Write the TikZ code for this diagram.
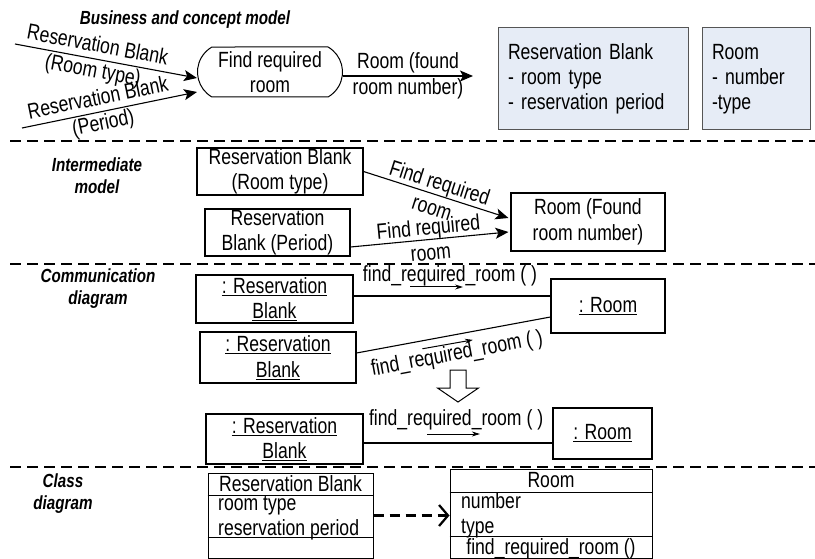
\documentclass[tikz,border=0pt]{standalone}
\usepackage{fontspec}
\setmainfont{Liberation Sans}[FakeStretch=0.8]
\usetikzlibrary{arrows.meta,shapes.misc}
\definecolor{notefill}{RGB}{230,236,246}
\definecolor{notedraw}{RGB}{85,85,85}
\begin{document}
\begin{tikzpicture}[x=1pt,y=-1pt,
  txt/.style={font=\fontsize{22}{25.5}\selectfont, align=center, inner sep=0pt},
  sec/.style={font=\fontsize{19}{22}\selectfont\bfseries\itshape, align=center, inner sep=0pt},
  box/.style={draw, line width=1.1pt, txt},
  conn/.style={line width=1.1pt, -{Stealth[length=13pt,width=11pt,inset=3pt]}},
  plainline/.style={line width=1.1pt},
  msg/.style={line width=1pt, -{Stealth[length=8pt,width=5pt]}},
  sepline/.style={line width=1.1pt, dash pattern=on 11pt off 6pt},
  note/.style={draw=notedraw, fill=notefill, line width=1pt, font=\fontsize{22}{25}\selectfont, align=left, inner ysep=0pt, inner xsep=10pt},
  cls/.style={draw, line width=1pt, inner sep=0pt},
  dep/.style={line width=2.5pt, dash pattern=on 10pt off 6pt, -{Straight Barb[length=9pt,width=21pt,line width=2.2pt]}}
]
\useasboundingbox (0,0) rectangle (815,559);

% separators
\coordinate (s1a) at (10,141); \coordinate (s1b) at (815,141);
\coordinate (s2a) at (10,264); \coordinate (s2b) at (815,264);
\coordinate (s3a) at (10,467); \coordinate (s3b) at (815,467);
\draw[sepline] (s1a) -- (s1b);
\draw[sepline] (s2a) -- (s2b);
\draw[sepline] (s3a) -- (s3b);

% ---------- Business and concept model
\node[sec] (t1) at (185,20) {Business and concept model};
\node[draw, rounded rectangle, rounded rectangle arc length=120, minimum width=145pt, minimum height=50pt, line width=1pt, txt] (S) at (270,72) {Find required\\room};
\coordinate (i1) at (15,44);
\coordinate (i2) at (22,128);
\coordinate (o1) at (473,76);
\draw[conn] (i1) -- node[txt, sloped, pos=0.44] (l1) {Reservation Blank\\(Room type)} ([shift={(0,6)}]S.west);
\draw[conn] (i2) -- node[txt, sloped, pos=0.45] (l2) {Reservation Blank\\(Period)} ([shift={(0,20)}]S.west);
\draw[conn] ([shift={(0,4)}]S.east) -- node[txt, pos=0.5] (l3) {Room (found\\room number)} (o1);

\node[note, minimum width=190pt, minimum height=102pt, text width=170pt] (rb) at (593,79) {Reservation Blank\\- room type\\- reservation period};
\node[note, minimum width=108pt, minimum height=102pt, text width=88pt] (rm) at (756,79) {Room\\- number\\-type};

% ---------- Intermediate model
\node[sec] (t2) at (97,176) {Intermediate\\model};
\node[box, minimum width=166pt, minimum height=47pt] (A) at (280,171.5) {Reservation Blank\\(Room type)};
\node[box, minimum width=145pt, minimum height=47pt] (B) at (277.5,232.5) {Reservation\\Blank (Period)};
\node[box, minimum width=154pt, minimum height=58pt] (C) at (588,222) {Room (Found\\room number)};
\draw[conn] (A.east) -- node[txt, sloped] (l4) {Find required\\room} ([shift={(-2,-4)}]C.west);
\draw[conn] ([shift={(0,14.5)}]B.east) -- node[txt, sloped] (l5) {Find required\\room} ([shift={(-2,10)}]C.west);

% ---------- Communication diagram
\node[sec] (t3) at (98,289) {Communication\\diagram};
\node[box, minimum width=157pt, minimum height=48pt] (D) at (274.5,299) {\underline{: Reservation}\\\underline{Blank}};
\node[box, minimum width=156pt, minimum height=51pt] (E) at (278,357.5) {\underline{: Reservation}\\\underline{Blank}};
\node[box, minimum width=157pt, minimum height=50pt] (F) at (284.5,439) {\underline{: Reservation}\\\underline{Blank}};
\node[box, minimum width=114pt, minimum height=54pt] (G) at (608,306) {\underline{: Room}};
\node[box, minimum width=99pt, minimum height=51pt] (H) at (602.5,433.5) {\underline{: Room}};

\draw[plainline] ([shift={(0,-3)}]D.east) -- node[txt, pos=0.49, above=9pt] (m1) {find\_required\_room ( )}
   node[pos=0.288, coordinate] (d1) {} node[pos=0.556, coordinate] (d2) {} ([shift={(0,-3)}]D.east -| G.west);
\draw[msg] ([shift={(0,-9)}]d1) -- ([shift={(0,-9)}]d2);

\draw[plainline] ([shift={(0,-4.5)}]E.east) -- node[txt, sloped, pos=0.5, below=9pt] (m2) {find\_required\_room ( )}
   node[pos=0.34, coordinate] (e1) {} node[pos=0.6, coordinate] (e2) {} ([shift={(0,11)}]G.west);
\draw[msg] ([shift={(0,8)}]e1) -- ([shift={(0,8.5)}]e2);

\draw[plainline] ([shift={(0,4)}]F.east) -- node[txt, pos=0.49, above=12pt] (m3) {find\_required\_room ( )}
   node[pos=0.337, coordinate] (f1) {} node[pos=0.616, coordinate] (f2) {} ([shift={(0,4)}]F.east -| H.west);
\draw[msg] ([shift={(0,-9)}]f1) -- ([shift={(0,-9)}]f2);

% hollow block arrow
\coordinate (ba) at (458,370);
\draw[line width=1pt, fill=white] ([shift={(-8,0)}]ba) -- ++(16,0) -- ++(0,18) -- ++(12.5,0)
   -- ([shift={(0,32)}]ba) -- ([shift={(-20.5,18)}]ba) -- ++(12.5,0) -- cycle;

% ---------- Class diagram
\node[sec] (t4) at (63,494) {Class\\diagram};
\node[cls, minimum width=165pt, minimum height=85pt] (crb) at (290.5,515.5) {};
\draw[line width=1pt] ([shift={(0,23)}]crb.north west) -- ([shift={(0,23)}]crb.north east);
\draw[line width=1pt] ([shift={(0,65)}]crb.north west) -- ([shift={(0,65)}]crb.north east);
\node[txt, anchor=base] (crbn) at (290.5,491.5) {Reservation Blank};
\node[txt, anchor=base west] (crba1) at (218,510.5) {room type};
\node[txt, anchor=base west] (crba2) at (218,535) {reservation period};

\node[cls, minimum width=202pt, minimum height=89pt] (crm) at (551,513.5) {};
\draw[line width=1pt] ([shift={(0,24)}]crm.north west) -- ([shift={(0,24)}]crm.north east);
\draw[line width=1pt] ([shift={(0,68)}]crm.north west) -- ([shift={(0,68)}]crm.north east);
\node[txt, anchor=base] (crmn) at (551,487) {Room};
\node[txt, anchor=base west] (crma1) at (461,508) {number};
\node[txt, anchor=base west] (crma2) at (461,533) {type};
\node[txt, anchor=base] (crmo) at (551,554) {find\_required\_room ()};

\draw[dep] (crb.east) -- (crb.east -| crm.west);
\end{tikzpicture}
\end{document}
